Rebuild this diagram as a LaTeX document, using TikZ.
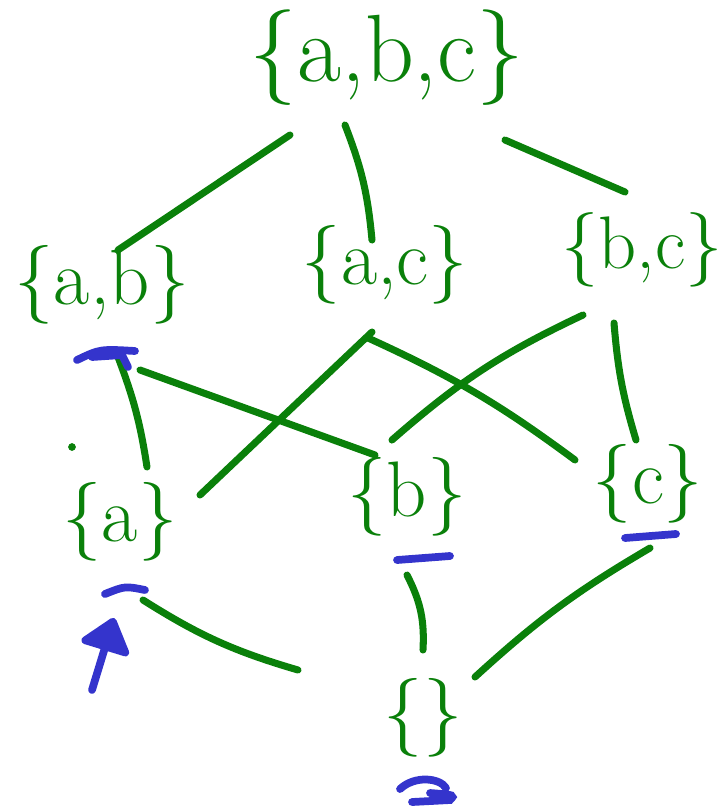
\documentclass[tikz,border=0pt]{standalone}
\usepackage{fontspec}
\usepackage{tikz}
\usepackage{xcolor}
\usetikzlibrary{arrows.meta}
\usetikzlibrary{calc}

\definecolor{penGreen}{RGB}{10,128,10}
\definecolor{penBlue}{RGB}{52,52,204}

\begin{document}
\begin{tikzpicture}[x=0.025cm, y=-0.025cm,
        set/.style={text=penGreen, inner sep=0pt, font=\fontsize{56}{56}\selectfont},
        edge/.style={draw=penGreen, line width=5pt, line cap=round},
        hilite/.style={draw=penBlue, line width=5.5pt, line cap=round},
        pointer/.style={draw=penBlue, line width=5.5pt, line cap=round,
            -{Triangle[width=1.4cm, length=0.9cm, round]}}]
        % Fix the page to the size of the drawing
        \useasboundingbox (0,0) rectangle (724,809);

        % Draw the subsets, level by level
        \node[set, font=\fontsize{68}{68}\selectfont] (abc) at (387,58) {\{a,b,c\}};

        \node[set] (ab) at (102,285) {\{a,b\}};
        \node[set] (ac) at (385,265) {\{a,c\}};
        \node[set, font=\fontsize{53}{53}\selectfont] (bc) at (642,250) {\{b,c\}};

        \node[set] (a) at (120,522) {\{a\}};
        \node[set] (b) at (407,497) {\{b\}};
        \node[set] (c) at (648,484) {\{c\}};

        \node[set] (empty) at (423,718) {\{\}};

        % Draw the covering lines from the top set down
        \draw[edge] ($(abc)+(-97,77)$) -- ($(ab)+(16,-35)$);
        \draw[edge] ($(abc)+(-42,67)$) to[bend left=8] ($(ac)+(-13,-25)$);
        \draw[edge] ($(abc)+(118,82)$) -- ($(bc)+(-17,-58)$);

        % Draw the lines between the pairs and the singletons
        \draw[edge] ($(ab)+(16,72)$) to[bend left=6] ($(a)+(27,-55)$);
        \draw[edge] ($(ab)+(38,85)$) -- ($(b)+(-32,-42)$);
        \draw[edge] ($(ac)+(-13,67)$) -- ($(a)+(80,-27)$);
        \draw[edge] ($(ac)+(-17,73)$) to[bend left=6] ($(c)+(-73,-24)$);
        \draw[edge] ($(bc)+(-59,65)$) to[bend right=8] ($(b)+(-15,-57)$);
        \draw[edge] ($(bc)+(-28,73)$) to[bend right=6] ($(c)+(-12,-44)$);

        % Draw the lines down to the empty set
        \draw[edge] ($(a)+(23,78)$) to[bend right=8] ($(empty)+(-125,-48)$);
        \draw[edge] ($(b)+(0,78)$) to[bend left=15] ($(empty)+(0,-68)$);
        \draw[edge] ($(c)+(2,64)$) to[bend right=6] ($(empty)+(52,-41)$);

        % Stray dot left of the {a,b} line
        \filldraw[penGreen] (72,447) circle (2.5pt);

        % Blue marks under the chosen sets
        \draw[hilite] ($(ab)+(-25,75)$) .. controls ($(ab)+(-2,64)$) .. ($(ab)+(33,66)$);
        \draw[hilite] ($(ab)+(-10,72)$) -- ($(ab)+(20,70)$) -- ($(ab)+(26,82)$);
        \draw[hilite] ($(a)+(-15,72)$) .. controls ($(a)+(5,64)$) .. ($(a)+(25,68)$);
        \draw[hilite] ($(b)+(-10,63)$) -- ($(b)+(43,59)$);
        \draw[hilite] ($(c)+(-23,54)$) -- ($(c)+(28,50)$);
        \draw[hilite] ($(empty)+(-23,71)$) .. controls ($(empty)+(-8,57)$) and ($(empty)+(17,60)$) .. ($(empty)+(23,70)$);
        \draw[hilite] ($(empty)+(7,75)$) .. controls ($(empty)+(32,77)$) .. ($(empty)+(27,82)$) -- ($(empty)+(-11,84)$);

        % Arrow pointing at {a}
        \coordinate (tail) at (92,690);
        \draw[pointer] (tail) -- ($(a)+(-6,96)$);
    \end{tikzpicture}
\end{document}
